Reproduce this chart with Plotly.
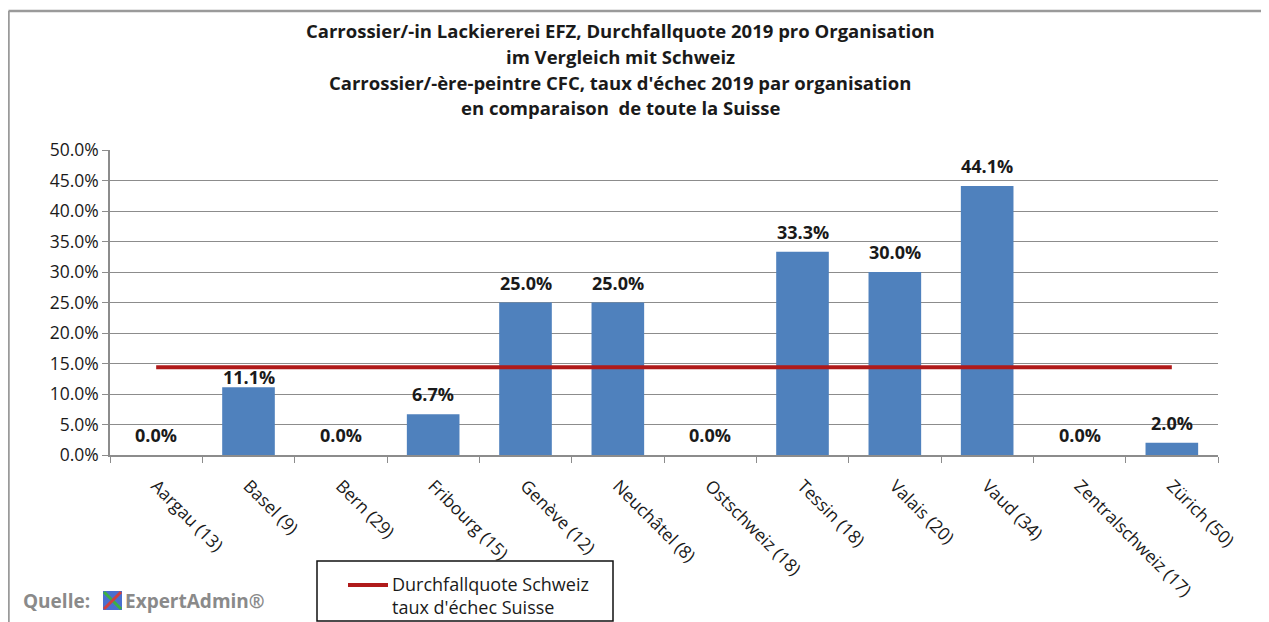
import plotly.graph_objects as go

categories = ["Aargau (13)", "Basel (9)", "Bern (29)", "Fribourg (15)", "Genève (12)",
              "Neuchâtel (8)", "Ostschweiz (18)", "Tessin (18)", "Valais (20)", "Vaud (34)",
              "Zentralschweiz (17)", "Zürich (50)"]
fail_rate = [0.0, 0.111, 0.0, 0.067, 0.25, 0.25, 0.0, 0.333, 0.30, 0.441, 0.0, 0.02]
swiss_rate = [0.144] * len(categories)
y_ticks = [0, 0.05, 0.10, 0.15, 0.20, 0.25, 0.30, 0.35, 0.40, 0.45, 0.50]
swiss_label = "Durchfallquote Schweiz<br>taux d'échec Suisse"

title_lines = [
    "Carrossier/-in Lackiererei EFZ, Durchfallquote 2019 pro Organisation",
    "im Vergleich mit Schweiz",
    "Carrossier/-ère-peintre CFC, taux d'échec 2019 par organisation",
    "en comparaison  de toute la Suisse",
]

# label placement style (Basel label sits closer to its bar, below the Swiss line)
label_shift_default = 6
label_shift_special = {"Basel (9)": -4}

FONT = "'Open Sans', Lato, sans-serif"
OFF = 8  # page body margin
W, H = 1269 - OFF, 622 - OFF
# plot area in screenshot pixels: x 110..1218, y 150..455
L = 110 - OFF
R = W - (1218 - OFF)
T = 150 - OFF
B = H - (455 - OFF)
pw, ph = W - L - R, H - T - B


def px_x(p):
    return (p - OFF - L) / pw


def px_y(p):
    return (H - B - (p - OFF)) / ph


RED = "#B01A1A"

fig = go.Figure()
fig.add_trace(go.Bar(
    x=categories, y=fail_rate, marker=dict(color="#4F81BD", line=dict(width=0)),
    width=0.57, showlegend=False, hoverinfo="skip",
))
fig.add_trace(go.Scatter(
    x=categories, y=swiss_rate, mode="lines",
    line=dict(color=RED, width=4),
    name=swiss_label, showlegend=False,
))

for c, v in zip(categories, fail_rate):
    fig.add_annotation(
        x=c, y=v, xref="x", yref="y", text=f"<b>{v*100:.1f}%</b>",
        showarrow=False, xanchor="center", yanchor="bottom",
        yshift=label_shift_special.get(c, label_shift_default),
        font=dict(family=FONT, size=18, color="#1a1a1a"),
    )

fig.update_layout(
    width=W, height=H,
    margin=dict(l=L, r=R, t=T, b=B, autoexpand=False),
    paper_bgcolor="white", plot_bgcolor="white",
    font=dict(family=FONT, size=17, color="#222"),
    showlegend=False,
    xaxis=dict(
        type="category", tickangle=45, showgrid=False, automargin=False,
        showline=True, linecolor="#8c8c8c", linewidth=1.5,
        ticks="outside", tickson="boundaries", ticklen=6, tickcolor="#8c8c8c",
        ticklabelstandoff=12,
        tickfont=dict(family=FONT, size=17.5, color="#1a1a1a"),
    ),
    yaxis=dict(
        range=[0, 0.5], tickvals=y_ticks, tickformat=".1%", automargin=False,
        showgrid=True, gridcolor="#8c8c8c", gridwidth=1.2,
        showline=True, linecolor="#8c8c8c", linewidth=1.5,
        ticks="outside", ticklen=6, tickcolor="#8c8c8c",
        tickfont=dict(family=FONT, size=17.5, color="#1a1a1a"),
        zeroline=False,
    ),
)

title_y = [30, 56, 82, 108]
for txt, yy in zip(title_lines, title_y):
    fig.add_annotation(
        text=f"<b>{txt}</b>", x=px_x(620), y=px_y(yy), xref="paper", yref="paper",
        showarrow=False, xanchor="center", yanchor="middle",
        font=dict(family=FONT, size=18.5, color="#1a1a1a"),
    )

# legend box (drawn to match the original's layout)
fig.add_shape(type="rect", xref="paper", yref="paper",
              x0=px_x(317), x1=px_x(613), y0=px_y(561), y1=px_y(621),
              fillcolor="white", line=dict(color="#111", width=1.5))
fig.add_shape(type="line", xref="paper", yref="paper",
              x0=px_x(348), x1=px_x(388), y0=px_y(585), y1=px_y(585),
              line=dict(color=RED, width=4))
fig.add_annotation(
    text=swiss_label, x=px_x(390), y=px_y(595), xref="paper", yref="paper",
    showarrow=False, xanchor="left", yanchor="middle", align="left",
    font=dict(family=FONT, size=18, color="#1a1a1a"),
)

# outer frame (top and left edges)
fig.add_shape(type="line", xref="paper", yref="paper",
              x0=px_x(8.5), x1=px_x(1269), y0=px_y(11), y1=px_y(11),
              line=dict(color="#9a9a9a", width=2.5))
fig.add_shape(type="line", xref="paper", yref="paper",
              x0=px_x(8.5), x1=px_x(8.5), y0=px_y(11), y1=px_y(622),
              line=dict(color="#9a9a9a", width=2.5))

# source note
fig.add_annotation(
    text="<b>Quelle:</b>", x=px_x(21), y=px_y(601), xref="paper", yref="paper",
    showarrow=False, xanchor="left", yanchor="middle",
    font=dict(family=FONT, size=19, color="#8a8a8a"),
)
fig.add_shape(type="rect", xref="paper", yref="paper",
              x0=px_x(103), x1=px_x(122), y0=px_y(591), y1=px_y(610),
              fillcolor="#4a6fd0", line=dict(width=0))
fig.add_shape(type="line", xref="paper", yref="paper",
              x0=px_x(104), x1=px_x(121), y0=px_y(592), y1=px_y(609),
              line=dict(color="#3cb043", width=3))
fig.add_shape(type="line", xref="paper", yref="paper",
              x0=px_x(104), x1=px_x(121), y0=px_y(609), y1=px_y(592),
              line=dict(color="#d04040", width=3))
fig.add_annotation(
    text="<b>ExpertAdmin®</b>", x=px_x(123), y=px_y(601), xref="paper", yref="paper",
    showarrow=False, xanchor="left", yanchor="middle",
    font=dict(family=FONT, size=19, color="#8a8a8a"),
)

fig.write_html("out.html")
